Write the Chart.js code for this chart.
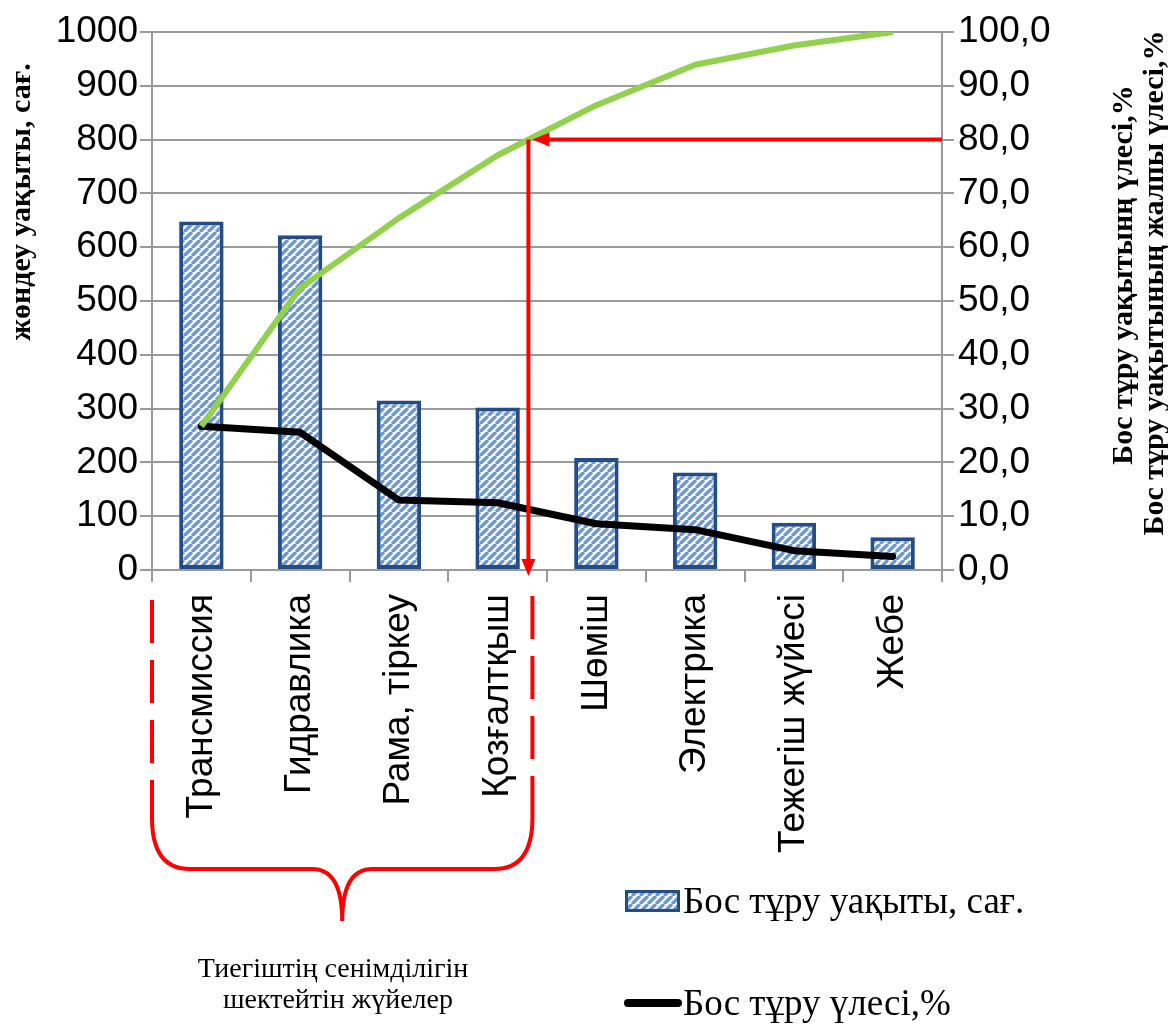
<!DOCTYPE html>
<html>
<head>
<meta charset="utf-8">
<script src="https://cdn.jsdelivr.net/npm/chart.js@4.4.1/dist/chart.umd.min.js"></script>
<style>
  html, body { margin: 0; padding: 0; background: #fff; }
  canvas { display: block; }
</style>
</head>
<body>
<canvas id="pareto" width="1168" height="1024"></canvas>
<script>
// Loader subsystems, downtime hours and their shares
const categories = ['Трансмиссия', 'Гидравлика', 'Рама, тіркеу', 'Қозғалтқыш', 'Шөміш', 'Электрика', 'Тежегіш жүйесі', 'Жебе'];
const downtimeHours = [648, 622, 315, 302, 208, 181, 88, 61];
const sharePercent = [26.7, 25.6, 13.0, 12.5, 8.6, 7.5, 3.6, 2.5];
const cumulativePercent = [26.7, 52.4, 65.4, 77.1, 86.4, 93.9, 97.5, 100.0];
const paretoThreshold = 80;

const seriesLabels = ['Бос тұру уақыты, сағ.', 'Бос тұру үлесі,%', 'Бос тұру уақытының жалпы үлесі,%'];
const leftAxisTitle = 'жөндеу уақыты, сағ.';
const rightAxisTitles = ['Бос тұру уақытынң үлесі,%', 'Бос тұру уақытының жалпы үлесі,%'];
const groupCaption = ['Тиегіштің сенімділігін', 'шектейтін жүйелер'];

const SANS = '"Liberation Sans", Arial, sans-serif';
const SERIF = '"Liberation Serif", "Times New Roman", serif';
const GRID = '#9a9a9a';
const RED = '#ff0000';
const BAR_EDGE = '#224d86';

// Diagonal blue/white hatch used for the bars
function makeHatch() {
  const s = 8;
  const c = document.createElement('canvas');
  c.width = s; c.height = s;
  const g = c.getContext('2d');
  g.fillStyle = '#ffffff';
  g.fillRect(0, 0, s, s);
  g.strokeStyle = '#6a98d4';
  g.lineWidth = 3.4;
  g.beginPath();
  for (const o of [-s, 0, s]) { g.moveTo(o, s); g.lineTo(o + s, 0); }
  g.stroke();
  return g.createPattern(c, 'repeat');
}
const hatch = makeHatch();

function arrowHead(ctx, tipX, tipY, dirX, dirY, len, half) {
  const bx = tipX - dirX * len, by = tipY - dirY * len;
  ctx.beginPath();
  ctx.moveTo(tipX, tipY);
  ctx.lineTo(bx - dirY * half, by + dirX * half);
  ctx.lineTo(bx + dirY * half, by - dirX * half);
  ctx.closePath();
  ctx.fill();
}

function thresholdX(chart) {
  const x = chart.scales.x;
  for (let i = 0; i < cumulativePercent.length - 1; i++) {
    const v0 = cumulativePercent[i], v1 = cumulativePercent[i + 1];
    if (v0 < paretoThreshold && v1 >= paretoThreshold) {
      const t = (paretoThreshold - v0) / (v1 - v0);
      const x0 = x.getPixelForValue(i), x1 = x.getPixelForValue(i + 1);
      return x0 + t * (x1 - x0);
    }
  }
  return x.getPixelForValue(0);
}

// Red arrows marking the 80 % cut-off
const paretoArrows = {
  id: 'paretoArrows',
  afterDatasetsDraw(chart) {
    const { ctx, chartArea: a, scales: { y1 } } = chart;
    const cx = thresholdX(chart);
    const cy = y1.getPixelForValue(paretoThreshold);
    ctx.save();
    ctx.strokeStyle = RED;
    ctx.fillStyle = RED;
    ctx.lineWidth = 4;
    // horizontal arrow from the right axis to the cumulative curve
    ctx.beginPath();
    ctx.moveTo(a.right, cy);
    ctx.lineTo(cx + 18, cy);
    ctx.stroke();
    arrowHead(ctx, cx + 4, cy, -1, 0, 17, 7);
    // vertical arrow down to the category axis
    ctx.beginPath();
    ctx.moveTo(cx, cy);
    ctx.lineTo(cx, a.bottom - 8);
    ctx.stroke();
    arrowHead(ctx, cx, a.bottom + 6, 0, 1, 17, 7);
    ctx.restore();
  }
};

// Axis titles, group brace, caption and legend
const decorations = {
  id: 'decorations',
  afterDraw(chart) {
    const { ctx, chartArea: a } = chart;
    ctx.save();

    // left axis title
    ctx.fillStyle = '#000';
    ctx.font = 'bold 30px ' + SERIF;
    ctx.textAlign = 'center';
    ctx.textBaseline = 'middle';
    ctx.save();
    ctx.translate(22, 202);
    ctx.rotate(-Math.PI / 2);
    ctx.fillText(leftAxisTitle, 0, 0);
    ctx.restore();

    // right axis titles
    const rightCols = [[1124, 275], [1155, 283]];
    rightAxisTitles.forEach((t, i) => {
      ctx.save();
      ctx.translate(rightCols[i][0], rightCols[i][1]);
      ctx.rotate(-Math.PI / 2);
      ctx.fillText(t, 0, 0);
      ctx.restore();
    });

    // dashed bounds and brace around the limiting subsystems
    const L = a.left;
    const R = thresholdX(chart) + 4;
    const mid = (L + R) / 2;
    ctx.strokeStyle = RED;
    ctx.lineWidth = 4;
    ctx.setLineDash([43, 17]);
    ctx.beginPath();
    ctx.moveTo(L, 600); ctx.lineTo(L, 818);
    ctx.moveTo(R, 596); ctx.lineTo(R, 818);
    ctx.stroke();
    ctx.setLineDash([]);
    ctx.beginPath();
    ctx.moveTo(L, 818);
    ctx.quadraticCurveTo(L, 869, L + 38, 869);
    ctx.lineTo(mid - 30, 869);
    ctx.quadraticCurveTo(mid, 869, mid, 921);
    ctx.moveTo(R, 818);
    ctx.quadraticCurveTo(R, 869, R - 38, 869);
    ctx.lineTo(mid + 30, 869);
    ctx.quadraticCurveTo(mid, 869, mid, 921);
    ctx.stroke();

    // caption under the brace
    ctx.fillStyle = '#000';
    ctx.font = '28px ' + SERIF;
    ctx.textAlign = 'center';
    ctx.textBaseline = 'middle';
    ctx.fillText(groupCaption[0], 333, 970);
    ctx.fillText(groupCaption[1], 338, 1001);

    // legend
    const bar = chart.data.datasets[0];
    const line = chart.data.datasets[1];
    ctx.fillStyle = bar.backgroundColor;
    ctx.fillRect(625, 890, 55, 22);
    ctx.strokeStyle = bar.borderColor;
    ctx.lineWidth = 3;
    ctx.strokeRect(626.5, 891.5, 52, 19);
    ctx.strokeStyle = line.borderColor;
    ctx.lineWidth = 8;
    ctx.lineCap = 'round';
    ctx.beginPath();
    ctx.moveTo(628, 1003); ctx.lineTo(678, 1003);
    ctx.stroke();
    ctx.fillStyle = '#000';
    ctx.font = '37px ' + SERIF;
    ctx.textAlign = 'left';
    ctx.textBaseline = 'middle';
    ctx.fillText(bar.label, 683, 903);
    ctx.fillText(line.label, 683, 1005);

    ctx.restore();
  }
};

new Chart(document.getElementById('pareto'), {
  type: 'bar',
  data: {
    labels: categories,
    datasets: [
      {
        type: 'bar',
        label: seriesLabels[0],
        data: downtimeHours,
        yAxisID: 'y',
        backgroundColor: hatch,
        borderColor: BAR_EDGE,
        borderWidth: 4,
        borderSkipped: false,
        categoryPercentage: 1,
        barPercentage: 0.45,
        order: 3
      },
      {
        type: 'line',
        label: seriesLabels[1],
        data: sharePercent,
        yAxisID: 'y1',
        borderColor: '#000000',
        borderWidth: 7,
        pointRadius: 0,
        tension: 0,
        fill: false,
        borderCapStyle: 'round',
        borderJoinStyle: 'round',
        order: 2
      },
      {
        type: 'line',
        label: seriesLabels[2],
        data: cumulativePercent,
        yAxisID: 'y1',
        borderColor: '#92d050',
        borderWidth: 6,
        pointRadius: 0,
        tension: 0,
        fill: false,
        borderJoinStyle: 'round',
        order: 1
      }
    ]
  },
  options: {
    responsive: false,
    animation: false,
    layout: { padding: { top: 32, left: 0, right: 0, bottom: 0 } },
    plugins: {
      legend: { display: false },
      tooltip: { enabled: false },
      title: { display: false }
    },
    scales: {
      x: {
        offset: true,
        grid: { display: true, drawOnChartArea: false, offset: true, tickLength: 12, color: GRID, lineWidth: 2 },
        border: { display: true, color: GRID, width: 2 },
        ticks: {
          color: '#000',
          font: { family: SANS, size: 37 },
          minRotation: 90,
          maxRotation: 90,
          autoSkip: false,
          padding: 12
        },
        afterFit(scale) { scale.height = 454; }
      },
      y: {
        position: 'left',
        min: 0,
        max: 1000,
        ticks: {
          stepSize: 100,
          color: '#000',
          font: { family: SANS, size: 37 },
          padding: 2,
          callback: v => String(v)
        },
        grid: { color: GRID, lineWidth: 2, tickLength: 12 },
        border: { display: true, color: GRID, width: 2 },
        afterFit(scale) { scale.width = 152; }
      },
      y1: {
        position: 'right',
        min: 0,
        max: 100,
        ticks: {
          stepSize: 10,
          color: '#000',
          font: { family: SANS, size: 37 },
          padding: 4,
          callback: v => v.toFixed(1).replace('.', ',')
        },
        grid: { drawOnChartArea: false, color: GRID, lineWidth: 2, tickLength: 12 },
        border: { display: true, color: GRID, width: 2 },
        afterFit(scale) { scale.width = 226; }
      }
    }
  },
  plugins: [paretoArrows, decorations]
});
</script>
</body>
</html>
